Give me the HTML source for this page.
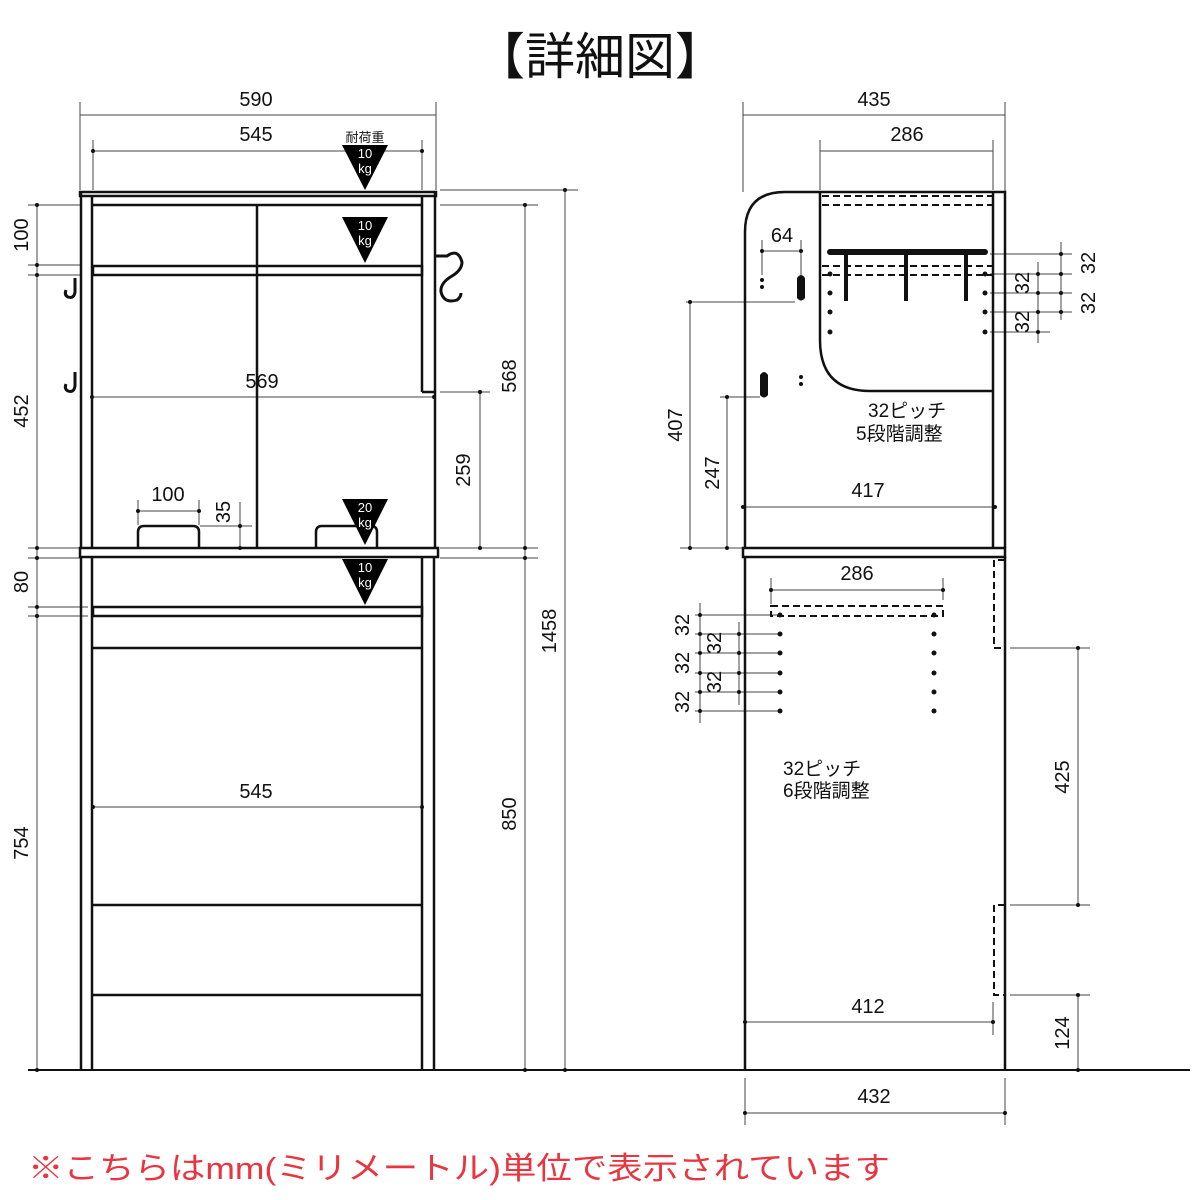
<!DOCTYPE html>
<html><head><meta charset="utf-8"><style>html,body{margin:0;padding:0;background:#fff}svg{display:block}</style></head><body>
<svg width="1200" height="1200" viewBox="0 0 1200 1200" xmlns="http://www.w3.org/2000/svg" font-family="'Liberation Sans Narrow','Liberation Sans','Noto Sans CJK JP',sans-serif">
<rect width="1200" height="1200" fill="#fff"/>
<text x="600" y="74" font-size="50" text-anchor="middle" font-family="'Liberation Sans','Noto Sans CJK JP',sans-serif" fill="#111">【詳細図】</text>

<!-- thin dimension lines -->
<g stroke="#444" stroke-width="1" fill="none">
  <!-- left view top dims -->
  <line x1="80" y1="115" x2="436" y2="115"/><line x1="80" y1="102" x2="80" y2="190"/><line x1="436" y1="102" x2="436" y2="190"/>
  <line x1="93" y1="151" x2="422" y2="151"/><line x1="93" y1="140" x2="93" y2="190"/><line x1="422" y1="140" x2="422" y2="190"/>
  <!-- left vertical dims -->
  <line x1="37" y1="205" x2="37" y2="1070"/>
  <line x1="28" y1="205" x2="80" y2="205"/><line x1="28" y1="265" x2="80" y2="265"/><line x1="28" y1="275" x2="80" y2="275"/>
  <line x1="28" y1="548" x2="80" y2="548"/><line x1="28" y1="558" x2="80" y2="558"/><line x1="28" y1="607" x2="88" y2="607"/><line x1="28" y1="616" x2="88" y2="616"/>
  <!-- right vertical dims -->
  <line x1="525" y1="205" x2="525" y2="1070"/><line x1="565" y1="190" x2="565" y2="1070"/><line x1="480" y1="392" x2="480" y2="548"/>
  <line x1="440" y1="190" x2="578" y2="190"/><line x1="440" y1="205" x2="538" y2="205"/>
  <line x1="440" y1="392" x2="490" y2="392"/><line x1="440" y1="548" x2="538" y2="548"/><line x1="440" y1="558" x2="538" y2="558"/>
  <!-- 569 -->
  <line x1="92" y1="397" x2="434" y2="397"/>
  <!-- 545 lower -->
  <line x1="93" y1="807" x2="422" y2="807"/>
  <!-- 100 & 35 -->
  <line x1="138" y1="511" x2="199" y2="511"/><line x1="138" y1="500" x2="138" y2="525"/><line x1="199" y1="500" x2="199" y2="525"/>
  <line x1="240" y1="502" x2="240" y2="548"/><line x1="200" y1="526" x2="252" y2="526"/>

  <!-- right view dims -->
  <line x1="743" y1="115" x2="1005" y2="115"/><line x1="743" y1="102" x2="743" y2="192"/><line x1="1005" y1="102" x2="1005" y2="192"/>
  <line x1="820" y1="151" x2="993" y2="151"/><line x1="820" y1="140" x2="820" y2="190"/><line x1="993" y1="140" x2="993" y2="190"/>
  <line x1="762" y1="251" x2="801" y2="251"/><line x1="762" y1="240" x2="762" y2="275"/><line x1="801" y1="240" x2="801" y2="275"/>
  <line x1="690" y1="302" x2="690" y2="548"/><line x1="686" y1="302" x2="795" y2="302"/>
  <line x1="727" y1="397" x2="727" y2="548"/><line x1="720" y1="397" x2="760" y2="397"/>
  <line x1="680" y1="548" x2="743" y2="548"/>
  <line x1="743" y1="507" x2="995" y2="507"/>
  <line x1="1061" y1="242" x2="1061" y2="320"/><line x1="1038" y1="262" x2="1038" y2="343"/>
  <line x1="990" y1="254" x2="1072" y2="254"/><line x1="990" y1="274" x2="1072" y2="274"/><line x1="990" y1="293" x2="1072" y2="293"/><line x1="990" y1="312" x2="1072" y2="312"/><line x1="990" y1="332" x2="1050" y2="332"/>
  <!-- lower right -->
  <line x1="771" y1="590" x2="943" y2="590"/><line x1="771" y1="578" x2="771" y2="604"/><line x1="943" y1="578" x2="943" y2="600"/>
  <line x1="700" y1="603" x2="700" y2="723"/><line x1="739" y1="622" x2="739" y2="705"/>
  <line x1="695" y1="615" x2="780" y2="615"/><line x1="695" y1="634" x2="780" y2="634"/><line x1="695" y1="653" x2="780" y2="653"/><line x1="695" y1="673" x2="780" y2="673"/><line x1="695" y1="692" x2="780" y2="692"/><line x1="695" y1="711" x2="780" y2="711"/>
  <line x1="1078" y1="648" x2="1078" y2="905"/><line x1="1078" y1="995" x2="1078" y2="1070"/>
  <line x1="1010" y1="648" x2="1090" y2="648"/><line x1="1010" y1="905" x2="1090" y2="905"/><line x1="1010" y1="995" x2="1090" y2="995"/>
  <line x1="745" y1="1022" x2="993" y2="1022"/><line x1="993" y1="1002" x2="993" y2="1035"/>
  <line x1="745" y1="1113" x2="1005" y2="1113"/><line x1="745" y1="1078" x2="745" y2="1125"/><line x1="1005" y1="1078" x2="1005" y2="1125"/>
</g>
<!-- dimension dots -->
<g fill="#111">
  <circle cx="93" cy="151" r="2"/><circle cx="422" cy="151" r="2"/>
  <circle cx="37" cy="205" r="2"/><circle cx="37" cy="265" r="2"/><circle cx="37" cy="275" r="2"/><circle cx="37" cy="548" r="2"/><circle cx="37" cy="558" r="2"/><circle cx="37" cy="607" r="2"/><circle cx="37" cy="616" r="2"/><circle cx="37" cy="1070" r="2"/>
  <circle cx="525" cy="205" r="2"/><circle cx="525" cy="548" r="2"/><circle cx="525" cy="558" r="2"/><circle cx="525" cy="1070" r="2"/>
  <circle cx="565" cy="190" r="2"/><circle cx="565" cy="1070" r="2"/><circle cx="480" cy="392" r="2"/><circle cx="480" cy="548" r="2"/>
  <circle cx="92" cy="397" r="2"/><circle cx="434" cy="397" r="2"/><circle cx="93" cy="807" r="2"/><circle cx="422" cy="807" r="2"/>
  <circle cx="138" cy="511" r="2"/><circle cx="199" cy="511" r="2"/><circle cx="240" cy="526" r="2"/><circle cx="240" cy="548" r="2"/>
  <circle cx="762" cy="251" r="2"/><circle cx="801" cy="251" r="2"/><circle cx="690" cy="302" r="2"/><circle cx="690" cy="548" r="2"/><circle cx="727" cy="397" r="2"/><circle cx="727" cy="548" r="2"/>
  <circle cx="743" cy="507" r="2"/><circle cx="995" cy="507" r="2"/>
  <circle cx="1061" cy="254" r="2"/><circle cx="1061" cy="274" r="2"/><circle cx="1061" cy="293" r="2"/><circle cx="1061" cy="312" r="2"/>
  <circle cx="1038" cy="274" r="2"/><circle cx="1038" cy="293" r="2"/><circle cx="1038" cy="312" r="2"/><circle cx="1038" cy="332" r="2"/>
  <circle cx="771" cy="590" r="2"/><circle cx="943" cy="590" r="2"/>
  <circle cx="700" cy="615" r="2"/><circle cx="700" cy="634" r="2"/><circle cx="700" cy="653" r="2"/><circle cx="700" cy="673" r="2"/><circle cx="700" cy="692" r="2"/><circle cx="700" cy="711" r="2"/>
  <circle cx="739" cy="634" r="2"/><circle cx="739" cy="653" r="2"/><circle cx="739" cy="673" r="2"/><circle cx="739" cy="692" r="2"/>
  <circle cx="1078" cy="648" r="2"/><circle cx="1078" cy="905" r="2"/><circle cx="1078" cy="995" r="2"/><circle cx="1078" cy="1070" r="2"/>
  <circle cx="745" cy="1022" r="2"/><circle cx="993" cy="1022" r="2"/><circle cx="745" cy="1113" r="2"/><circle cx="1005" cy="1113" r="2"/>
  <!-- shelf pin holes -->
  <circle cx="830" cy="274" r="2.5"/><circle cx="830" cy="293" r="2.5"/><circle cx="830" cy="312" r="2.5"/><circle cx="830" cy="332" r="2.5"/>
  <circle cx="985" cy="274" r="2.5"/><circle cx="985" cy="293" r="2.5"/><circle cx="985" cy="312" r="2.5"/><circle cx="985" cy="332" r="2.5"/>
  <circle cx="762" cy="280" r="2"/><circle cx="762" cy="287" r="2"/><circle cx="801" cy="377" r="2"/><circle cx="801" cy="384" r="2"/>
  <circle cx="780" cy="615" r="2.5"/><circle cx="780" cy="634" r="2.5"/><circle cx="780" cy="653" r="2.5"/><circle cx="780" cy="673" r="2.5"/><circle cx="780" cy="692" r="2.5"/><circle cx="780" cy="711" r="2.5"/>
  <circle cx="934" cy="615" r="2.5"/><circle cx="934" cy="634" r="2.5"/><circle cx="934" cy="653" r="2.5"/><circle cx="934" cy="673" r="2.5"/><circle cx="934" cy="692" r="2.5"/><circle cx="934" cy="711" r="2.5"/>
</g>

<!-- floor -->
<line x1="28" y1="1070" x2="1190" y2="1070" stroke="#111" stroke-width="2"/>

<!-- LEFT VIEW structure -->
<g stroke="#111" stroke-width="2.5" fill="none">
  <rect x="80" y="192" width="356" height="4"/>
  <line x1="81" y1="192" x2="81" y2="548"/><line x1="92" y1="196" x2="92" y2="548"/>
  <line x1="435" y1="192" x2="435" y2="548"/><line x1="422" y1="196" x2="422" y2="392"/><line x1="422" y1="392" x2="435" y2="392"/>
  <line x1="92" y1="205" x2="422" y2="205"/>
  <rect x="93" y="266" width="329" height="9"/>
  <line x1="257" y1="205" x2="257" y2="548"/>
  <rect x="80" y="548" width="358" height="9"/>
  <line x1="81" y1="557" x2="81" y2="1070"/><line x1="92" y1="557" x2="92" y2="1070"/>
  <line x1="422" y1="557" x2="422" y2="1070"/><line x1="434" y1="557" x2="434" y2="1070"/>
  <rect x="93" y="607" width="329" height="9"/>
  <line x1="92" y1="648" x2="422" y2="648"/>
  <line x1="92" y1="905" x2="422" y2="905"/>
  <line x1="92" y1="995" x2="422" y2="995"/>
  <path d="M138 548 V532 Q138 526 144 526 H193 Q199 526 199 532 V548"/>
  <path d="M316 548 V532 Q316 526 322 526 H371 Q377 526 377 532 V548"/>
  <!-- hooks -->
  <path d="M75 278 V292 Q74 299 68 297 Q64 295 66 290" stroke-width="3"/>
  <path d="M75 372 V386 Q74 393 68 391 Q64 389 66 384" stroke-width="3"/>
  <path d="M436 256 H447 Q458 248 462 262 Q462 270 452 276 Q440 283 441 292 Q444 304 457 300 Q461 297 461 293" stroke-width="3"/>
</g>
<!-- weight triangles -->
<g fill="#000">
  <polygon points="342,145 388,145 365,190"/>
  <polygon points="342,217 388,217 365,263"/>
  <polygon points="342,499 388,499 365,545"/>
  <polygon points="342,559 388,559 365,605"/>
</g>
<g fill="#fff" font-size="13" text-anchor="middle">
  <text x="365" y="158">10</text><text x="365" y="173">kg</text>
  <text x="365" y="230">10</text><text x="365" y="245">kg</text>
  <text x="365" y="512">20</text><text x="365" y="527">kg</text>
  <text x="365" y="572">10</text><text x="365" y="587">kg</text>
</g>
<text x="365" y="142" font-size="13" text-anchor="middle" fill="#111" font-family="'Liberation Sans','Noto Sans CJK JP',sans-serif">耐荷重</text>

<!-- RIGHT VIEW structure -->
<g stroke="#111" stroke-width="2.5" fill="none">
  <path d="M745 548 V232 Q745 192 785 192 H1005 V548"/>
  <line x1="993" y1="192" x2="993" y2="548"/>
  <path d="M820 192 V340 Q820 391 870 391 H993"/>
  <rect x="743" y="548" width="262" height="9"/>
  <line x1="745" y1="557" x2="745" y2="1070"/><line x1="1005" y1="557" x2="1005" y2="1070"/>
  <line x1="830" y1="252" x2="985" y2="252" stroke-width="6" stroke-linecap="round"/>
  <line x1="846" y1="250" x2="846" y2="301" stroke-width="4"/>
  <line x1="906" y1="250" x2="906" y2="301" stroke-width="4"/>
  <line x1="966" y1="250" x2="966" y2="301" stroke-width="4"/>
</g>
<g stroke="#111" stroke-width="2" fill="none" stroke-dasharray="7,4">
  <line x1="822" y1="196" x2="993" y2="196"/><line x1="822" y1="205" x2="993" y2="205"/>
  <line x1="822" y1="266" x2="993" y2="266"/><line x1="822" y1="275" x2="993" y2="275"/>
  <rect x="771" y="606" width="172" height="10"/>
  <path d="M1005 560 H994 V648 H1005"/>
  <path d="M1005 905 H994 V995 H1005"/>
</g>
<!-- keyholes -->
<g fill="#111">
  <path d="M797 278 Q801 272 805 278 V298 Q801 303 797 298 Z"/>
  <path d="M760 375 Q764 369 768 375 V395 Q764 400 760 395 Z"/>
</g>

<!-- labels -->
<g font-size="20" fill="#111" text-anchor="middle">
  <text x="256" y="106">590</text><text x="256" y="141">545</text>
  <text x="262" y="388">569</text><text x="168" y="501">100</text><text x="256" y="798">545</text>
  <text x="874" y="106">435</text><text x="907" y="141">286</text>
  <text x="782" y="242">64</text><text x="868" y="497">417</text>
  <text x="857" y="580">286</text><text x="868" y="1013">412</text><text x="874" y="1103">432</text>
  <text transform="translate(28,235) rotate(-90)">100</text>
  <text transform="translate(28,411) rotate(-90)">452</text>
  <text transform="translate(28,582) rotate(-90)">80</text>
  <text transform="translate(28,843) rotate(-90)">754</text>
  <text transform="translate(230,512) rotate(-90)">35</text>
  <text transform="translate(470,470) rotate(-90)">259</text>
  <text transform="translate(516,376) rotate(-90)">568</text>
  <text transform="translate(516,814) rotate(-90)">850</text>
  <text transform="translate(556,631) rotate(-90)">1458</text>
  <text transform="translate(682,425) rotate(-90)">407</text>
  <text transform="translate(719,473) rotate(-90)">247</text>
  <text transform="translate(1095,263) rotate(-90)">32</text>
  <text transform="translate(1095,303) rotate(-90)">32</text>
  <text transform="translate(1029,283) rotate(-90)">32</text>
  <text transform="translate(1029,322) rotate(-90)">32</text>
  <text transform="translate(689,625) rotate(-90)">32</text>
  <text transform="translate(689,663) rotate(-90)">32</text>
  <text transform="translate(689,702) rotate(-90)">32</text>
  <text transform="translate(721,643) rotate(-90)">32</text>
  <text transform="translate(721,682) rotate(-90)">32</text>
  <text transform="translate(1069,777) rotate(-90)">425</text>
  <text transform="translate(1069,1033) rotate(-90)">124</text>
</g>
<g font-size="19" fill="#111" font-family="'Liberation Sans','Noto Sans CJK JP',sans-serif">
  <text x="868" y="417">32ピッチ</text>
  <text x="856" y="440">5段階調整</text>
  <text x="783" y="775">32ピッチ</text>
  <text x="783" y="797">6段階調整</text>
</g>
<text x="28" y="1179" font-size="31" fill="#e8353f" textLength="862" lengthAdjust="spacingAndGlyphs" font-family="'Liberation Sans','Noto Sans CJK JP',sans-serif">※こちらはmm(ミリメートル)単位で表示されています</text>
</svg>
</body></html>
